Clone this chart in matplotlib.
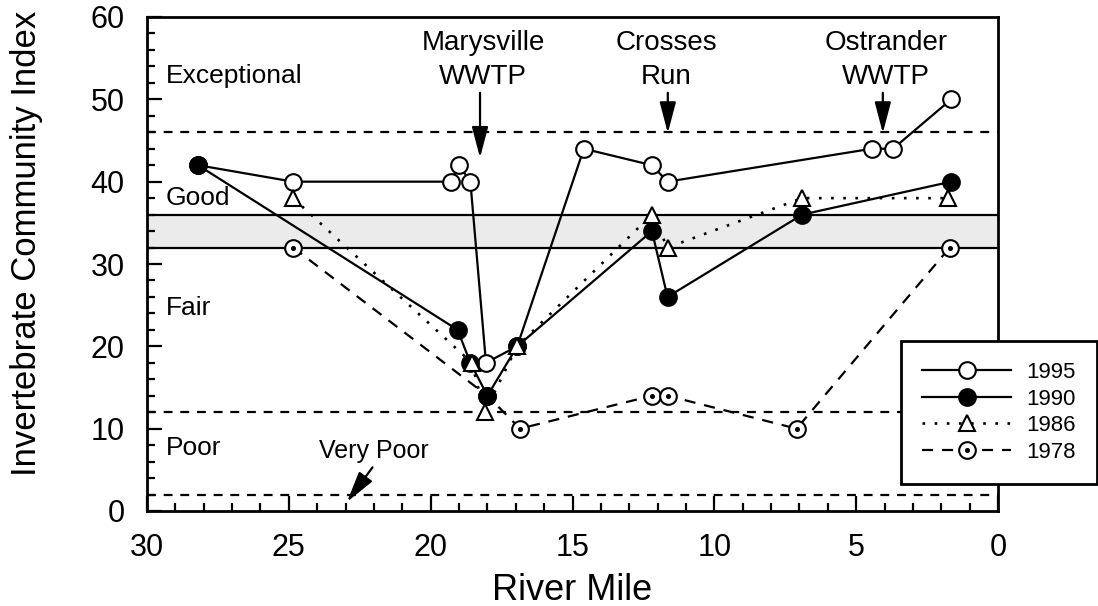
import matplotlib
matplotlib.use("Agg")
import matplotlib.pyplot as plt
from matplotlib.patches import FancyArrowPatch
from matplotlib.legend_handler import HandlerTuple
from matplotlib.ticker import MultipleLocator

plt.rcParams['font.family'] = ['Liberation Sans', 'DejaVu Sans']

# Invertebrate Community Index by river mile, per survey year
mile_1995 = [28.2, 24.85, 19.3, 19.0, 18.6, 18.05, 16.95, 14.6, 12.2, 11.65, 4.45, 3.7, 1.65]
ici_1995 = [42, 40, 40, 42, 40, 18, 20, 44, 42, 40, 44, 44, 50]

mile_1990 = [28.2, 19.05, 18.6, 18.0, 16.95, 12.2, 11.65, 6.9, 1.65]
ici_1990 = [42, 22, 18, 14, 20, 34, 26, 36, 40]

mile_1986 = [24.85, 18.55, 18.1, 16.95, 12.2, 11.65, 6.9, 1.75]
ici_1986 = [38, 18, 12, 20, 36, 32, 38, 38]

mile_1978 = [24.85, 18.0, 16.85, 12.2, 11.65, 7.1, 1.7]
ici_1978 = [32, 14, 10, 14, 14, 10, 32]

# Narrative criteria boundaries
exceptional_line = 46
poor_line = 12
very_poor_line = 2
good_band = (32, 36)

fig = plt.figure(figsize=(10.98, 6.06), dpi=100)
ax = fig.add_axes([147 / 1098, 95 / 606, 851 / 1098, 494 / 606])

ax.set_xlim(30, 0)
ax.set_ylim(0, 60)

lw = 1.6
ms = 12
mew = 1.5

# Criteria bands and thresholds
ax.axhspan(good_band[0], good_band[1], facecolor='#ebebeb', edgecolor='none', zorder=1)
for yv in good_band:
    ax.axhline(yv, color='black', lw=1.6, zorder=1.5)
for yv in (exceptional_line, poor_line, very_poor_line):
    ax.axhline(yv, color='black', lw=1.6, ls=(0, (4, 3.5)), zorder=1.5)

l95, = ax.plot(mile_1995, ici_1995, color='black', lw=lw, marker='o', ms=ms,
               mfc='white', mec='black', mew=mew, zorder=3)
l78, = ax.plot(mile_1978, ici_1978, color='black', lw=lw, ls=(0, (5, 4)), marker='o', ms=ms,
               mfc='white', mec='black', mew=mew, zorder=4)
d78, = ax.plot(mile_1978, ici_1978, ls='none', marker='o', ms=2.6, mfc='black',
               mec='black', zorder=4.1)
l90, = ax.plot(mile_1990, ici_1990, color='black', lw=lw, marker='o', ms=ms,
               mfc='black', mec='black', mew=mew, zorder=5)
l86, = ax.plot(mile_1986, ici_1986, color='black', lw=1.9, ls=(0, (1, 3.6)), marker='^', ms=ms,
               mfc='white', mec='black', mew=mew, zorder=6)

# Axes styling
for sp in ax.spines.values():
    sp.set_linewidth(2.0)
ax.xaxis.set_major_locator(MultipleLocator(5))
ax.xaxis.set_minor_locator(MultipleLocator(1))
ax.yaxis.set_major_locator(MultipleLocator(10))
ax.yaxis.set_minor_locator(MultipleLocator(2))
ax.tick_params(which='both', direction='in', top=False, right=False, width=1.6)
ax.tick_params(which='major', length=11)
ax.tick_params(which='minor', length=6)
ax.tick_params(axis='both', which='major', labelsize=22)
ax.tick_params(axis='y', which='major', pad=16)
ax.tick_params(axis='x', which='major', pad=16)

ax.set_xlabel('River Mile', fontsize=26, labelpad=7)
ax.set_ylabel('Invertebrate Community Index', fontsize=25)
ax.yaxis.set_label_coords((43 - 147) / 851, (511 - 243) / 494)

# Criteria labels
lab_fs = 19
ax.text(29.35, 52.8, 'Exceptional', fontsize=lab_fs, va='center', ha='left')
ax.text(29.35, 38, 'Good', fontsize=lab_fs, va='center', ha='left')
ax.text(29.35, 24.6, 'Fair', fontsize=lab_fs, va='center', ha='left')
ax.text(29.35, 7.6, 'Poor', fontsize=lab_fs, va='center', ha='left')
ax.text(22.0, 7.3, 'Very Poor', fontsize=18, va='center', ha='center')


def arrow(x0, y0, x1, y1):
    ax.add_patch(FancyArrowPatch((x0, y0), (x1, y1),
                                 arrowstyle='-|>,head_length=1.9,head_width=0.5',
                                 mutation_scale=10, lw=1.6, color='black',
                                 shrinkA=0, shrinkB=0, zorder=7))


# Point-source annotations
note_fs = 20
note_y = 54.8
ax.text(18.15, note_y, 'Marysville\nWWTP', fontsize=note_fs, ha='center', va='center',
        linespacing=1.42)
arrow(18.26, 50.8, 18.26, 42.9)
ax.text(11.7, note_y, 'Crosses\nRun', fontsize=note_fs, ha='center', va='center',
        linespacing=1.42)
arrow(11.64, 50.8, 11.64, 45.9)
ax.text(3.95, note_y, 'Ostrander\nWWTP', fontsize=note_fs, ha='center', va='center',
        linespacing=1.42)
arrow(4.06, 50.8, 4.06, 45.9)
arrow(22.05, 5.3, 22.95, 1.1)

leg = ax.legend([l95, l90, l86, (l78, d78)], ['1995', '1990', '1986', '1978'],
                handler_map={tuple: HandlerTuple(ndivide=1)},
                loc='upper left', bbox_to_anchor=((901 - 147) / 851, (511 - 341) / 494),
                borderaxespad=0, fontsize=16, handlelength=4.0, handletextpad=0.7,
                labelspacing=0.25, borderpad=0.95, fancybox=False, framealpha=1,
                edgecolor='black')
leg.get_frame().set_linewidth(2.0)
leg.set_zorder(10)

fig.savefig('out.png', dpi=100)
